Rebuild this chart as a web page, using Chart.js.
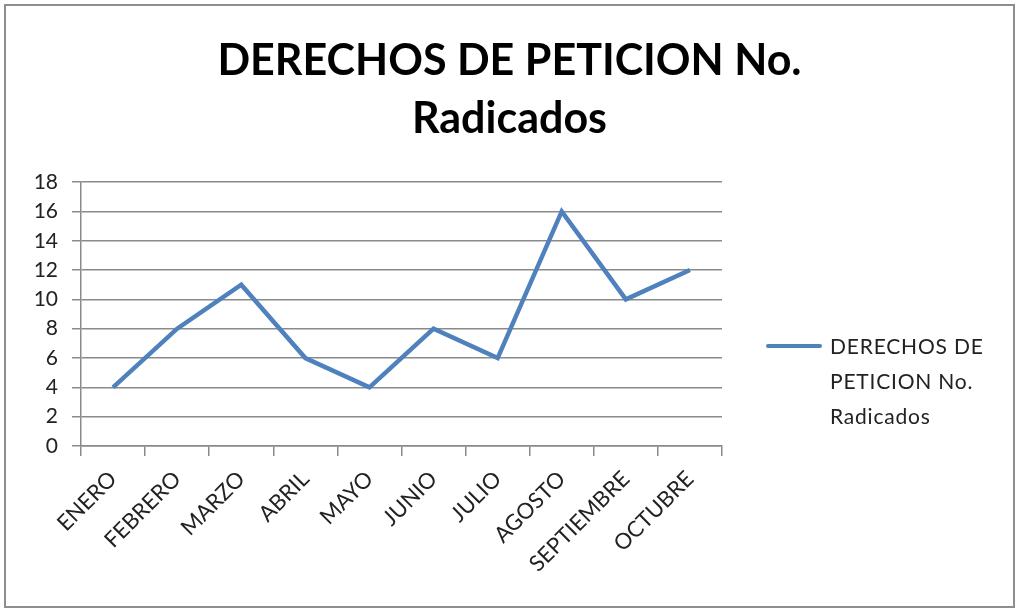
<!DOCTYPE html>
<html>
<head>
<meta charset="utf-8">
<script src="https://cdn.jsdelivr.net/npm/chart.js@4/dist/chart.umd.min.js"></script>
<style>
  html,body{margin:0;padding:0;background:#fff;}
  #wrap{position:relative;width:1019px;height:613px;overflow:hidden;}
  #frame{position:absolute;left:4px;top:4px;width:1007px;height:600px;border:2px solid #8e8e8e;}
  #c{position:absolute;left:0;top:0;}
  #legend{position:absolute;left:766px;top:328px;font-family:Lato,"Open Sans",sans-serif;font-size:21px;letter-spacing:0.8px;color:#222;}
  #legend .sw{position:absolute;left:0;top:16px;width:56px;height:4px;background:#4F81BD;border-radius:2px;}
  #legend .tx{position:absolute;left:64px;top:0;line-height:35px;white-space:nowrap;}
</style>
</head>
<body>
<div id="wrap">
  <div id="frame"></div>
  <canvas id="c" width="1019" height="613"></canvas>
  <div id="legend"><div class="sw"></div><div class="tx" id="legend-text"></div></div>
</div>
<script>
const CHART_TITLE = ["DERECHOS DE PETICION No.", "Radicados"];
const SERIES_LABEL = ["DERECHOS DE", "PETICION No.", "Radicados"];
const MONTHS = ["ENERO","FEBRERO","MARZO","ABRIL","MAYO","JUNIO","JULIO","AGOSTO","SEPTIEMBRE","OCTUBRE"];
const RADICADOS = [4, 8, 11, 6, 4, 8, 6, 16, 10, 12];
const Y_MIN = 0, Y_MAX = 18, Y_STEP = 2;

document.getElementById("legend-text").innerHTML = SERIES_LABEL.join("<br>");

const FONT = "Lato, 'Open Sans', sans-serif";
const GRID = "#8a8a8a";

new Chart(document.getElementById("c"), {
  type: "line",
  data: {
    labels: MONTHS,
    datasets: [{
      label: SERIES_LABEL.join(" "),
      data: RADICADOS,
      borderColor: "#4F81BD",
      borderWidth: 4.5,
      pointRadius: 0,
      tension: 0,
      fill: false,
    }],
  },
  options: {
    responsive: false,
    animation: false,
    layout: {padding: {left: 0, right: 0, top: 18, bottom: 0}},
    plugins: {
      legend: {display: false},
      tooltip: {enabled: false},
      title: {
        display: true,
        text: CHART_TITLE,
        color: "#000",
        font: {family: FONT, size: 43, weight: "bold", lineHeight: 1.35},
        padding: {top: 14, bottom: 34},
      },
    },
    scales: {
      x: {
        offset: true,
        afterFit: s => { s.height = 167; },
        grid: {display: true, drawOnChartArea: false, offset: true, tickLength: 10, color: GRID, lineWidth: 1.5},
        border: {color: GRID, width: 1.5},
        ticks: {minRotation: 45, maxRotation: 45, color: "#222", font: {family: FONT, size: 22}, padding: 10},
      },
      y: {
        min: Y_MIN, max: Y_MAX,
        afterFit: s => { s.width = 81; },
        grid: {color: GRID, lineWidth: 1.5, tickLength: 9},
        border: {color: GRID, width: 1.5},
        ticks: {stepSize: Y_STEP, color: "#222", font: {family: FONT, size: 21}, padding: 14},
      },
      // empty right-hand axis reserving room for the legend
      side: {
        position: "right",
        afterFit: s => { s.width = 297; },
        grid: {display: false},
        border: {display: false},
        ticks: {display: false},
      },
    },
  },
});
</script>
</body>
</html>
